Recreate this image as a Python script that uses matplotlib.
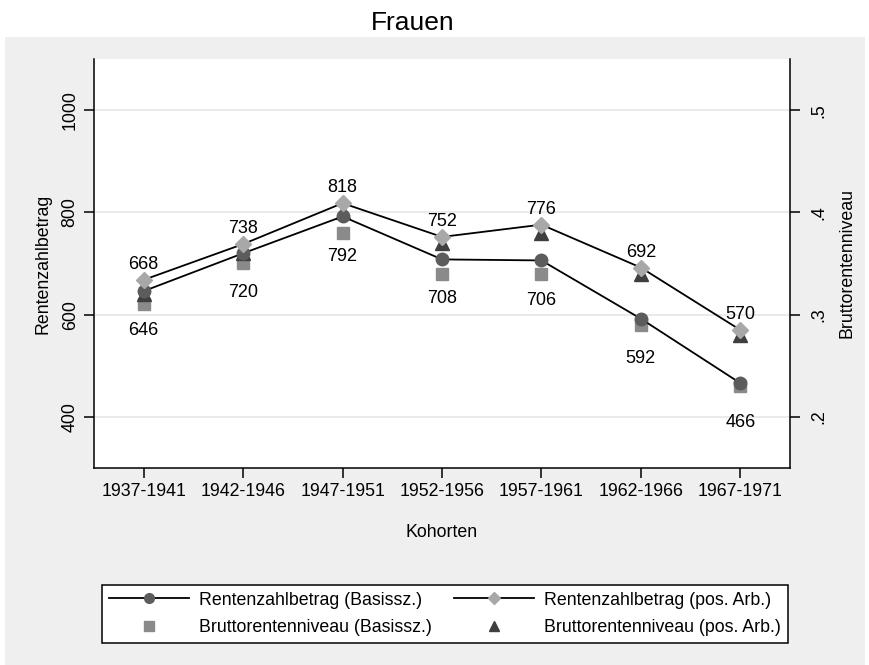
import numpy as np
import matplotlib.pyplot as plt
from matplotlib.patches import Rectangle
from matplotlib.lines import Line2D

plt.rcParams['font.family'] = ['Liberation Sans', 'DejaVu Sans']

# Daten
kohorten = ['1937-1941', '1942-1946', '1947-1951', '1952-1956', '1957-1961', '1962-1966', '1967-1971']
rzb_basis = [646, 720, 792, 708, 706, 592, 466]
rzb_posarb = [668, 738, 818, 752, 776, 692, 570]
brn_basis = [0.31, 0.35, 0.38, 0.34, 0.34, 0.29, 0.23]
brn_posarb = [0.32, 0.36, 0.40, 0.37, 0.38, 0.34, 0.28]

left_ticks = [400, 600, 800, 1000]
right_ticks = [0.2, 0.3, 0.4, 0.5]
right_labels = ['.2', '.3', '.4', '.5']

W, H = 870, 665
FS = 12.8
fig = plt.figure(figsize=(W / 100, H / 100), dpi=100)
fig.patch.set_facecolor('white')

# grauer Graphbereich
fig.patches.append(Rectangle((5 / W, 0), 860 / W, (H - 37) / H, transform=fig.transFigure,
                             facecolor='#efefef', edgecolor='none', zorder=-5))

fig.text(413 / W, 1 - 23 / H, 'Frauen', ha='center', va='center', fontsize=19)

x0, x1, y0, y1 = 94, 790, 59, 468
ax = fig.add_axes([x0 / W, 1 - y1 / H, (x1 - x0) / W, (y1 - y0) / H])
ax.set_facecolor('white')
x = np.arange(1, len(kohorten) + 1)

ax.set_xlim(0.5, 7.5)
ax.set_ylim(300, 1100)
ax.set_yticks(left_ticks)
ax.set_yticklabels([str(v) for v in left_ticks], rotation=90, va='center')
ax.set_xticks(x)
ax.set_xticklabels(kohorten)
ax.grid(axis='y', color='#e6e6e6', linewidth=1.2)
ax.set_axisbelow(True)
for s in ['top', 'right']:
    ax.spines[s].set_visible(False)
for s in ['left', 'bottom']:
    ax.spines[s].set_linewidth(1.1)
ax.tick_params(direction='out', length=7, width=1.1, labelsize=FS, pad=4)
ax.set_ylabel('Rentenzahlbetrag', fontsize=FS, labelpad=7)
ax.set_xlabel('Kohorten', fontsize=FS, labelpad=17)

ax2 = ax.twinx()
ax2.set_ylim(0.15, 0.55)
ax2.set_yticks(right_ticks)
ax2.set_yticklabels(right_labels, rotation=90, va='center')
for s in ['top', 'left', 'bottom']:
    ax2.spines[s].set_visible(False)
ax2.spines['right'].set_linewidth(1.1)
ax2.tick_params(direction='out', length=7, width=1.1, labelsize=FS, pad=8)
ax2.set_ylabel('Bruttorentenniveau', fontsize=FS, labelpad=8)

c_circ, c_diam, c_sq, c_tri = '#5c5c5c', '#a8a8a8', '#8a8a8a', '#3f3f3f'

ax2.plot(x, brn_basis, ls='none', marker='s', ms=8, color=c_sq, zorder=3)
ax2.plot(x, brn_posarb, ls='none', marker='^', ms=9.5, color=c_tri, zorder=3)

# Linien auf ax2 zeichnen, damit sie oben liegen; Koordinaten in ax-Daten
trans = ax.transData
ax2.plot(x, rzb_basis, color='black', lw=1.3, marker='o', ms=9, mfc=c_circ, mec=c_circ,
         transform=trans, zorder=4)
ax2.plot(x, rzb_posarb, color='black', lw=1.3, marker='D', ms=8.5, mfc=c_diam, mec=c_diam,
         transform=trans, zorder=4)
ax2.set_ylim(0.15, 0.55)

for xi, v in zip(x, rzb_posarb):
    ax2.annotate(str(v), (xi, v), xycoords=trans, xytext=(0, 11), textcoords='offset points',
                 ha='center', va='center', fontsize=13, zorder=5)
for xi, v in zip(x, rzb_basis):
    ax2.annotate(str(v), (xi, v), xycoords=trans, xytext=(0, -28.5), textcoords='offset points',
                 ha='center', va='center', fontsize=13, zorder=5)

handles = [
    Line2D([], [], color='black', lw=1.3, marker='o', ms=7, mfc=c_circ, mec=c_circ),
    Line2D([], [], ls='none', marker='s', ms=7, color=c_sq),
    Line2D([], [], color='black', lw=1.3, marker='D', ms=6.5, mfc=c_diam, mec=c_diam),
    Line2D([], [], ls='none', marker='^', ms=7.5, color=c_tri),
]
labels = ['Rentenzahlbetrag (Basissz.)', 'Bruttorentenniveau (Basissz.)',
          'Rentenzahlbetrag (pos. Arb.)', 'Bruttorentenniveau (pos. Arb.)']
leg = fig.legend(handles, labels, ncol=2, loc='center', bbox_to_anchor=(445 / W, 1 - 614 / H),
                 fontsize=FS, frameon=True, fancybox=False, edgecolor='black', framealpha=1,
                 handlelength=4.5, handletextpad=0.6, columnspacing=1.2, labelspacing=0.6,
                 borderpad=0.4)
leg.get_frame().set_linewidth(1.1)

fig.savefig('out.png', dpi=100, facecolor=fig.get_facecolor())
